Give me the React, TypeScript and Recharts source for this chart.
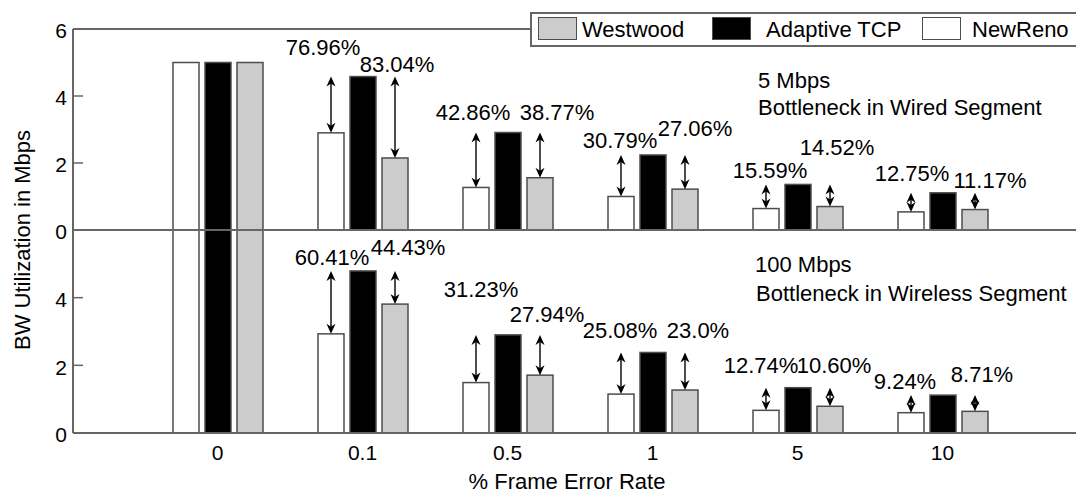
import React from 'react';
import { BarChart, Bar, XAxis, YAxis } from 'recharts';

// ---------- data ----------
const categories = ['0', '0.1', '0.5', '1', '5', '10'];

// 5 Mbps, bottleneck in wired segment (top panel)
const wiredNewReno = [5.0, 2.9, 1.27, 1.0, 0.64, 0.54];
const wiredAdaptive = [5.0, 4.58, 2.91, 2.24, 1.36, 1.11];
const wiredWestwood = [5.0, 2.15, 1.56, 1.22, 0.7, 0.61];

// 100 Mbps, bottleneck in wireless segment (bottom panel)
const wirelessNewReno = [6.5, 2.93, 1.49, 1.15, 0.67, 0.6];
const wirelessAdaptive = [6.5, 4.79, 2.9, 2.38, 1.34, 1.12];
const wirelessWestwood = [6.5, 3.81, 1.71, 1.27, 0.79, 0.64];

// improvement labels (text, label height in Mbps, horizontal nudge)
const wiredNewRenoPct = ['', '76.96%', '42.86%', '30.79%', '15.59%', '12.75%'];
const wiredNewRenoPctY = [0, 5.45, 3.53, 2.7, 1.8, 1.71];
const wiredNewRenoPctDx = [0, -8, -3, -1, 4, 1];
const wiredWestwoodPct = ['', '83.04%', '38.77%', '27.06%', '14.52%', '11.17%'];
const wiredWestwoodPctY = [0, 4.96, 3.53, 3.05, 2.49, 1.5];
const wiredWestwoodPctDx = [0, 2, 17, 10, 7, 15];

const wirelessNewRenoPct = ['', '60.41%', '31.23%', '25.08%', '12.74%', '9.24%'];
const wirelessNewRenoPctY = [0, 5.21, 4.25, 3.03, 2.01, 1.54];
const wirelessNewRenoPctDx = [0, 1, 5, -1, -5, -6];
const wirelessWestwoodPct = ['', '44.43%', '27.94%', '23.0%', '10.60%', '8.71%'];
const wirelessWestwoodPctY = [0, 5.51, 3.51, 3.03, 2.01, 1.75];
const wirelessWestwoodPctDx = [0, 13, 7, 13, 4, 7];

const topTicks = [0, 2, 4, 6];
const bottomTicks = [0, 2, 4];

const topData = categories.map((c, i) => ({
  cat: c,
  nr: wiredNewReno[i],
  at: wiredAdaptive[i],
  ww: wiredWestwood[i],
}));
const bottomData = categories.map((c, i) => ({
  cat: c,
  nr: wirelessNewReno[i],
  at: wirelessAdaptive[i],
  ww: wirelessWestwood[i],
}));

// ---------- styles ----------
const FONT = "'Liberation Sans', Arial, Helvetica, sans-serif";
const AXIS = '#666666';
const EDGE = '#4d4d4d';
const GRAY = '#cccccc';

type LabelSet = { text: string[]; y: number[]; dx: number[] };

function Arrow({ x, y1, y2 }: { x: number; y1: number; y2: number }) {
  const hl = 10;
  const hw = 4.5;
  const notch = 7;
  return (
    <g>
      <line x1={x} x2={x} y1={y1 + 5} y2={y2 - 5} stroke="#000" strokeWidth={1.4} />
      <polygon
        points={`${x},${y1} ${x - hw},${y1 + hl} ${x},${y1 + notch} ${x + hw},${y1 + hl}`}
        fill="#000"
      />
      <polygon
        points={`${x},${y2} ${x - hw},${y2 - hl} ${x},${y2 - notch} ${x + hw},${y2 - hl}`}
        fill="#000"
      />
    </g>
  );
}

function makeShape(fill: string, key: 'nr' | 'at' | 'ww', labels?: LabelSet) {
  return (props: any) => {
    const { x, y, width, height, index, payload } = props;
    const rect = (
      <rect x={x} y={y} width={width} height={height} fill={fill} stroke={EDGE} strokeWidth={1.5} />
    );
    if (!labels || !index || !payload) return rect;
    const v = payload[key];
    const a = payload.at;
    if (!v || height <= 0) return rect;
    const ppu = height / v;
    const bottom = y + height;
    const cx = x + width / 2;
    const aTop = bottom - a * ppu;
    const ly = bottom - labels.y[index] * ppu + 8;
    return (
      <g>
        {rect}
        <Arrow x={cx} y1={aTop} y2={y} />
        <text
          x={cx + labels.dx[index]}
          y={ly}
          textAnchor="middle"
          fontSize={22}
          fontFamily={FONT}
          fill="#000"
        >
          {labels.text[index]}
        </text>
      </g>
    );
  };
}

const CHART_W = 1085;
const PAD = { left: 72, right: 70 };

function Panel({
  data,
  ticks,
  marginTop,
  marginBottom,
  height,
  bottomAxis,
  nrLabels,
  wwLabels,
}: {
  data: any[];
  ticks: number[];
  marginTop: number;
  marginBottom: number;
  height: number;
  bottomAxis: boolean;
  nrLabels: LabelSet;
  wwLabels: LabelSet;
}) {
  return (
    <BarChart
      width={CHART_W}
      height={height}
      data={data}
      margin={{ top: marginTop, right: 0, bottom: marginBottom, left: 0 }}
      barSize={26}
      barGap={6}
    >
      <XAxis
        xAxisId="top"
        dataKey="cat"
        orientation="top"
        height={1}
        padding={PAD}
        tick={false}
        tickSize={-10}
        axisLine={{ stroke: AXIS, strokeWidth: 2 }}
        tickLine={{ stroke: AXIS, strokeWidth: 1.5 }}
      />
      {bottomAxis ? (
        <XAxis
          xAxisId="bottom"
          dataKey="cat"
          orientation="bottom"
          height={62}
          padding={PAD}
          tickSize={0}
          tickMargin={12}
          tickLine={false}
          axisLine={{ stroke: AXIS, strokeWidth: 2 }}
          tick={{ fill: '#000', fontSize: 21, fontFamily: FONT }}
        />
      ) : (
        <XAxis
          xAxisId="bottom"
          dataKey="cat"
          orientation="bottom"
          height={1}
          padding={PAD}
          tick={false}
          tickLine={false}
          axisLine={{ stroke: AXIS, strokeWidth: 2 }}
        />
      )}
      <YAxis
        width={73}
        domain={[0, 6]}
        ticks={ticks}
        allowDataOverflow
        interval={0}
        tickSize={-10}
        tickMargin={16}
        axisLine={{ stroke: AXIS, strokeWidth: 2 }}
        tickLine={{ stroke: AXIS, strokeWidth: 1.5 }}
        tick={{ fill: '#000', fontSize: 21, fontFamily: FONT, dy: 2 }}
      />
      <Bar
        xAxisId="top"
        dataKey="nr"
        fill="#ffffff"
        isAnimationActive={false}
        shape={makeShape('#ffffff', 'nr', nrLabels)}
      />
      <Bar
        xAxisId="top"
        dataKey="at"
        fill="#000000"
        isAnimationActive={false}
        shape={makeShape('#000000', 'at')}
      />
      <Bar
        xAxisId="top"
        dataKey="ww"
        fill={GRAY}
        isAnimationActive={false}
        shape={makeShape(GRAY, 'ww', wwLabels)}
      />
    </BarChart>
  );
}

function Legend() {
  const sw = (left: number, fill: string) => (
    <div
      style={{
        position: 'absolute',
        left,
        top: 3,
        width: 37,
        height: 21,
        background: fill,
        border: `1.5px solid ${EDGE}`,
      }}
    />
  );
  const tx = (left: number, t: string) => (
    <div
      style={{
        position: 'absolute',
        left,
        top: 0,
        height: 31,
        lineHeight: '31px',
        fontSize: 22,
        fontFamily: FONT,
        color: '#000',
        whiteSpace: 'nowrap',
      }}
    >
      {t}
    </div>
  );
  return (
    <div
      style={{
        position: 'absolute',
        left: 530,
        top: 12,
        width: 560,
        height: 31,
        background: '#fff',
        border: `2px solid ${AXIS}`,
      }}
    >
      {sw(6, GRAY)}
      {tx(50, 'Westwood')}
      {sw(180, '#000')}
      {tx(234, 'Adaptive TCP')}
      {sw(390, '#fff')}
      {tx(440, 'NewReno')}
    </div>
  );
}

export default function App() {
  return (
    <div
      style={{
        position: 'absolute',
        left: 0,
        top: 0,
        width: 1076,
        height: 495,
        overflow: 'hidden',
        background: '#fff',
      }}
    >
      <div style={{ position: 'absolute', left: 0, top: 0 }}>
        <Panel
          data={topData}
          ticks={topTicks}
          marginTop={28}
          marginBottom={19}
          height={250}
          bottomAxis={false}
          nrLabels={{ text: wiredNewRenoPct, y: wiredNewRenoPctY, dx: wiredNewRenoPctDx }}
          wwLabels={{ text: wiredWestwoodPct, y: wiredWestwoodPctY, dx: wiredWestwoodPctDx }}
        />
      </div>
      <div style={{ position: 'absolute', left: 0, top: 0 }}>
        <Panel
          data={bottomData}
          ticks={bottomTicks}
          marginTop={229}
          marginBottom={0}
          height={495}
          bottomAxis={true}
          nrLabels={{ text: wirelessNewRenoPct, y: wirelessNewRenoPctY, dx: wirelessNewRenoPctDx }}
          wwLabels={{ text: wirelessWestwoodPct, y: wirelessWestwoodPctY, dx: wirelessWestwoodPctDx }}
        />
      </div>
      <svg
        width={1076}
        height={495}
        style={{ position: 'absolute', left: 0, top: 0, pointerEvents: 'none' }}
      >
        <g fontFamily={FONT} fontSize={22} fill="#000">
          <text x={758} y={88}>5 Mbps</text>
          <text x={758} y={115}>Bottleneck in Wired Segment</text>
          <text x={755} y={272}>100 Mbps</text>
          <text x={756} y={301}>Bottleneck in Wireless Segment</text>
          <text x={567} y={489} textAnchor="middle">% Frame Error Rate</text>
          <text x={30} y={240} textAnchor="middle" transform="rotate(-90 30 240)">
            BW Utilization in Mbps
          </text>
        </g>
      </svg>
      <Legend />
    </div>
  );
}
